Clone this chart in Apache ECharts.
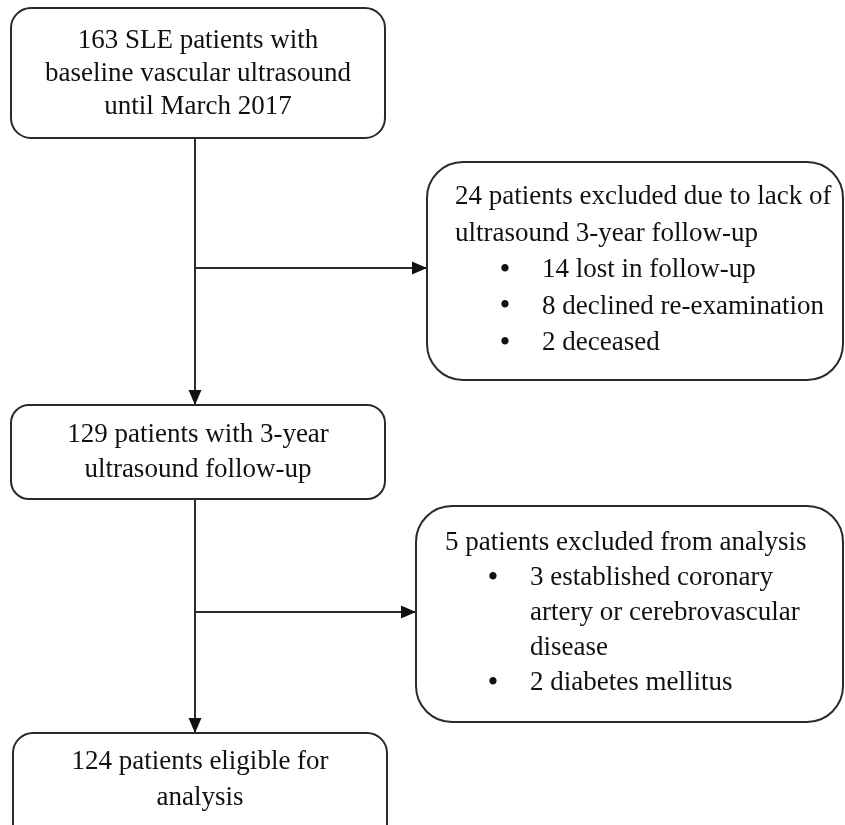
<!DOCTYPE html>
<html>
<head>
<meta charset="utf-8">
<script src="https://cdn.jsdelivr.net/npm/echarts@6/dist/echarts.min.js"></script>
<style>
html,body{margin:0;padding:0;background:#fff;}
#chart{width:845px;height:825px;}
</style>
</head>
<body>
<div id="chart"></div>
<script>
// ---- content (flowchart texts) ----
const mainSteps = [
  ["163 SLE patients with", "baseline vascular ultrasound", "until March 2017"],
  ["129 patients with 3-year", "ultrasound follow-up"],
  ["124 patients eligible for", "analysis"]
];
const exclusionHeads = [
  ["24 patients excluded due to lack of", "ultrasound 3-year follow-up"],
  ["5 patients excluded from analysis"]
];
const exclusionItems = [
  [["14 lost in follow-up"], ["8 declined re-examination"], ["2 deceased"]],
  [["3 established coronary", "artery or cerebrovascular", "disease"], ["2 diabetes mellitus"]]
];

// ---- layout (in axis units, 1 unit = 1 px) ----
const mainLayout = [
  {x0: 11, x1: 385, y0: 8,   y1: 138, r: 20, first: 41,  lh: 33},
  {x0: 11, x1: 385, y0: 405, y1: 499, r: 18, first: 435, lh: 35},
  {x0: 13, x1: 387, y0: 733, y1: 845, r: 20, first: 762, lh: 36}
];
const exclLayout = [
  {x0: 427, x1: 843, y0: 162, y1: 380, r: 36, headX: 455, bulletX: 505, itemX: 542, first: 197, lh: 36.5},
  {x0: 416, x1: 843, y0: 506, y1: 722, r: 36, headX: 445, bulletX: 493, itemX: 530, first: 543, lh: 35}
];
const spineX = 195;
const branchY = [268, 612];

const FONT = '27px "Liberation Serif", "Times New Roman", serif';
const BULLET_FONT = 'bold 27px "Liberation Serif", "Times New Roman", serif';
const INK = '#111';
const STROKE = '#2a2a2a';

function rectEl(api, L) {
  const p0 = api.coord([L.x0, L.y0]);
  const p1 = api.coord([L.x1, L.y1]);
  return {
    type: 'rect',
    shape: {x: p0[0], y: p0[1], width: p1[0] - p0[0], height: p1[1] - p0[1], r: L.r},
    style: {fill: '#fff', stroke: STROKE, lineWidth: 2}
  };
}
function textEl(api, x, y, text, align, font) {
  const p = api.coord([x, y]);
  return {
    type: 'text',
    style: {x: p[0], y: p[1], text: text, font: font || FONT, fill: INK,
            textAlign: align, textVerticalAlign: 'middle'}
  };
}
function lineEl(api, a, b) {
  const p = api.coord(a), q = api.coord(b);
  return {type: 'line', shape: {x1: p[0], y1: p[1], x2: q[0], y2: q[1]},
          style: {stroke: STROKE, lineWidth: 2}};
}
function arrowEl(api, tip, dir) {
  const t = api.coord(tip);
  const L = 15, W = 6.5;
  let pts;
  if (dir === 'down') pts = [[t[0], t[1]], [t[0] - W, t[1] - L], [t[0] + W, t[1] - L]];
  else pts = [[t[0], t[1]], [t[0] - L, t[1] - W], [t[0] - L, t[1] + W]];
  return {type: 'polygon', shape: {points: pts}, style: {fill: '#111'}};
}

const chart = echarts.init(document.getElementById('chart'), null, {renderer: 'canvas'});
chart.setOption({
  backgroundColor: '#fff',
  animation: false,
  grid: {left: 0, right: 0, top: 0, bottom: 0},
  xAxis: {type: 'value', min: 0, max: 845, show: false},
  yAxis: {type: 'value', min: 0, max: 825, inverse: true, show: false},
  series: [
    { // connectors
      type: 'custom', clip: false, silent: true, z: 1,
      data: [[0]],
      renderItem: function (params, api) {
        const ch = [];
        ch.push(lineEl(api, [spineX, mainLayout[0].y1], [spineX, mainLayout[1].y0]));
        ch.push(lineEl(api, [spineX, mainLayout[1].y1], [spineX, mainLayout[2].y0]));
        ch.push(arrowEl(api, [spineX, mainLayout[1].y0], 'down'));
        ch.push(arrowEl(api, [spineX, mainLayout[2].y0], 'down'));
        branchY.forEach(function (y, i) {
          ch.push(lineEl(api, [spineX, y], [exclLayout[i].x0, y]));
          ch.push(arrowEl(api, [exclLayout[i].x0, y], 'right'));
        });
        return {type: 'group', children: ch};
      }
    },
    { // main boxes
      type: 'custom', clip: false, silent: true, z: 2,
      data: mainSteps.map(function (_, i) { return [i]; }),
      renderItem: function (params, api) {
        const i = params.dataIndex, L = mainLayout[i];
        const cx = (L.x0 + L.x1) / 2;
        const ch = [rectEl(api, L)];
        mainSteps[i].forEach(function (t, k) {
          ch.push(textEl(api, cx, L.first + k * L.lh, t, 'center'));
        });
        return {type: 'group', children: ch};
      }
    },
    { // exclusion boxes
      type: 'custom', clip: false, silent: true, z: 2,
      data: exclusionHeads.map(function (_, i) { return [i]; }),
      renderItem: function (params, api) {
        const i = params.dataIndex, L = exclLayout[i];
        const ch = [rectEl(api, L)];
        let line = 0;
        exclusionHeads[i].forEach(function (t) {
          ch.push(textEl(api, L.headX, L.first + line * L.lh, t, 'left'));
          line++;
        });
        exclusionItems[i].forEach(function (item) {
          ch.push(textEl(api, L.bulletX, L.first + line * L.lh, '\u2022', 'center', BULLET_FONT));
          item.forEach(function (t) {
            ch.push(textEl(api, L.itemX, L.first + line * L.lh, t, 'left'));
            line++;
          });
        });
        return {type: 'group', children: ch};
      }
    }
  ]
});
</script>
</body>
</html>
